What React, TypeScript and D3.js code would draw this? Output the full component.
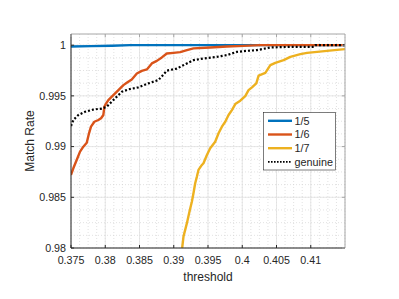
import React from 'react';
import * as d3 from 'd3';

// thresholds / match rate
const blueX = [0.375, 0.378, 0.381, 0.3836, 0.415];
const blueY = [0.99987, 0.9999, 0.99994, 1.0, 1.0];

const orangeX = [0.375, 0.37534, 0.37583, 0.37632, 0.3768, 0.3773, 0.37763, 0.37792, 0.37841, 0.37899, 0.37939, 0.37972, 0.37987, 0.38007, 0.38045, 0.38118, 0.38192, 0.38265, 0.38314, 0.38387, 0.38461, 0.38534, 0.38607, 0.3868, 0.38753, 0.38826, 0.38899, 0.38996, 0.39094, 0.39192, 0.39288, 0.39532, 0.39776, 0.40019, 0.40263, 0.415];
const orangeY = [0.9872, 0.98786, 0.98868, 0.9895, 0.98999, 0.99038, 0.99131, 0.99196, 0.99245, 0.99262, 0.99279, 0.99311, 0.99393, 0.99419, 0.99459, 0.99508, 0.99557, 0.99606, 0.99629, 0.99662, 0.99721, 0.99747, 0.99761, 0.9982, 0.99845, 0.99879, 0.99918, 0.99924, 0.99931, 0.99951, 0.99968, 0.99977, 0.99987, 0.99993, 1.0, 1.0];

const yellowX = [0.39123, 0.39142, 0.39167, 0.39192, 0.3923, 0.39265, 0.39288, 0.39313, 0.39338, 0.39361, 0.39411, 0.39434, 0.39484, 0.39532, 0.39605, 0.39654, 0.39703, 0.39752, 0.398, 0.39849, 0.39898, 0.39971, 0.40044, 0.40092, 0.40142, 0.40205, 0.40239, 0.40337, 0.4041, 0.40483, 0.40604, 0.40702, 0.40848, 0.40946, 0.41092, 0.41238, 0.41385, 0.41506];
const yellowY = [0.98, 0.98113, 0.98179, 0.98245, 0.98359, 0.98458, 0.9854, 0.98639, 0.98704, 0.9877, 0.98819, 0.98836, 0.98917, 0.98983, 0.99048, 0.99131, 0.99196, 0.99245, 0.99311, 0.9936, 0.99419, 0.99452, 0.99498, 0.99557, 0.99584, 0.99623, 0.997, 0.99727, 0.99803, 0.99826, 0.99852, 0.99885, 0.99911, 0.99924, 0.99934, 0.99944, 0.99954, 0.99961];

const genuineX = [0.375, 0.37534, 0.37607, 0.37705, 0.37826, 0.37949, 0.38022, 0.3807, 0.38143, 0.38241, 0.38338, 0.38484, 0.3863, 0.38776, 0.3883, 0.38899, 0.39045, 0.39192, 0.39288, 0.39434, 0.3963, 0.39776, 0.39923, 0.40069, 0.40215, 0.4041, 0.40702, 0.41043, 0.41067, 0.415];
const genuineY = [0.99203, 0.99262, 0.99311, 0.99343, 0.99365, 0.99375, 0.99393, 0.99426, 0.99475, 0.9954, 0.99564, 0.99584, 0.99623, 0.99656, 0.99695, 0.99749, 0.99769, 0.9982, 0.99852, 0.99869, 0.99885, 0.99902, 0.99934, 0.99944, 0.99951, 0.99977, 0.99983, 0.99983, 1.0, 1.0];

const seriesNames = ['1/5', '1/6', '1/7', 'genuine'];
const seriesColors = ['#0072BD', '#D95319', '#EDB120', '#000000'];

const xTicks = [0.375, 0.38, 0.385, 0.39, 0.395, 0.4, 0.405, 0.41];
const xTickLabels = ['0.375', '0.38', '0.385', '0.39', '0.395', '0.4', '0.405', '0.41'];
const yTicks = [0.98, 0.985, 0.99, 0.995, 1];
const yTickLabels = ['0.98', '0.985', '0.99', '0.995', '1'];

const W = 399;
const H = 299;
const margin = { top: 34, right: 54, bottom: 51, left: 71 };
const font = 'Liberation Sans, Arial, sans-serif';
const axisColor = '#262626';

const App = () => {
  const iw = W - margin.left - margin.right;
  const ih = H - margin.top - margin.bottom;
  const x = d3.scaleLinear().domain([0.375, 0.415]).range([0, iw]);
  const y = d3.scaleLinear().domain([0.98, 1.0011]).range([ih, 0]);

  const series = [
    { xs: blueX, ys: blueY },
    { xs: orangeX, ys: orangeY },
    { xs: yellowX, ys: yellowY },
    { xs: genuineX, ys: genuineY },
  ];

  const line = d3
    .line<number>()
    .x((d) => d[0])
    .y((d) => d[1]);

  const minorX = d3.range(0.375, 0.4151, 0.00125);
  const minorY = d3.range(0.98, 1.0011, 0.00125);

  return (
    <svg width={W} height={H} style={{ position: 'absolute', left: 0, top: 0, background: '#fff' }} fontFamily={font}>
      <defs>
        <clipPath id="plot">
          <rect x={0} y={0} width={iw} height={ih} />
        </clipPath>
      </defs>
      <g transform={`translate(${margin.left},${margin.top})`}>
        {/* minor grid */}
        {minorX.map((v, i) => (
          <line key={'mx' + i} x1={x(v)} x2={x(v)} y1={0} y2={ih} stroke="#cfcfcf" strokeWidth={0.6} strokeDasharray="1,2" />
        ))}
        {minorY.map((v, i) => (
          <line key={'my' + i} x1={0} x2={iw} y1={y(v)} y2={y(v)} stroke="#cfcfcf" strokeWidth={0.6} strokeDasharray="1,2" />
        ))}
        {/* major grid */}
        {xTicks.map((v) => (
          <line key={'gx' + v} x1={x(v)} x2={x(v)} y1={0} y2={ih} stroke="#e1e1e1" strokeWidth={0.8} />
        ))}
        {yTicks.map((v) => (
          <line key={'gy' + v} x1={0} x2={iw} y1={y(v)} y2={y(v)} stroke="#e1e1e1" strokeWidth={0.8} />
        ))}

        {/* curves */}
        <g clipPath="url(#plot)">
          {series.map((s, i) => {
            const pts = s.xs.map((v, j) => [x(v), y(s.ys[j])] as any);
            return (
              <path
                key={i}
                d={line(pts) || ''}
                fill="none"
                stroke={seriesColors[i]}
                strokeWidth={i === 3 ? 2.2 : 2.4}
                strokeDasharray={i === 3 ? '2,2' : undefined}
                strokeLinejoin="round"
              />
            );
          })}
        </g>

        {/* box */}
        <line x1={0} x2={iw} y1={0} y2={0} stroke="#a6a6a6" strokeWidth={1} />
        <line x1={iw} x2={iw} y1={0} y2={ih} stroke="#a6a6a6" strokeWidth={1} />
        <line x1={0} x2={iw} y1={ih} y2={ih} stroke={axisColor} strokeWidth={1} />
        <line x1={0} x2={0} y1={0} y2={ih} stroke={axisColor} strokeWidth={1} />

        {/* ticks */}
        {xTicks.map((v, i) => (
          <g key={'xt' + v}>
            <line x1={x(v)} x2={x(v)} y1={ih} y2={ih - 3} stroke={axisColor} />
            <line x1={x(v)} x2={x(v)} y1={0} y2={3} stroke="#a6a6a6" />
            <text x={x(v)} y={ih + 16} textAnchor="middle" fontSize={10.7} fill={axisColor}>
              {xTickLabels[i]}
            </text>
          </g>
        ))}
        {yTicks.map((v, i) => (
          <g key={'yt' + v}>
            <line x1={0} x2={3} y1={y(v)} y2={y(v)} stroke={axisColor} />
            <line x1={iw} x2={iw - 3} y1={y(v)} y2={y(v)} stroke="#a6a6a6" />
            <text x={-5} y={y(v) + 3.7} textAnchor="end" fontSize={10.7} fill={axisColor}>
              {yTickLabels[i]}
            </text>
          </g>
        ))}

        {/* axis labels */}
        <text x={iw / 2} y={ih + 32.5} textAnchor="middle" fontSize={12} fill={axisColor}>
          threshold
        </text>
        <text transform={`translate(${-37},${ih / 2}) rotate(-90)`} textAnchor="middle" fontSize={12} fill={axisColor}>
          Match Rate
        </text>

        {/* legend */}
        <g transform={`translate(${263.5 - margin.left},${112.5 - margin.top})`}>
          <rect x={0} y={0} width={72} height={57.5} fill="#fff" stroke={axisColor} strokeWidth={0.6} />
          {seriesNames.map((name, i) => (
            <g key={name} transform={`translate(0,${8.3 + i * 13.7})`}>
              <line
                x1={4.5}
                x2={28.5}
                y1={0}
                y2={0}
                stroke={seriesColors[i]}
                strokeWidth={i === 3 ? 1.8 : 2.4}
                strokeDasharray={i === 3 ? '1.6,1.4' : undefined}
              />
              <text x={31} y={3.8} fontSize={10.8} fill={axisColor}>
                {name}
              </text>
            </g>
          ))}
        </g>
      </g>
    </svg>
  );
};

export default App;
